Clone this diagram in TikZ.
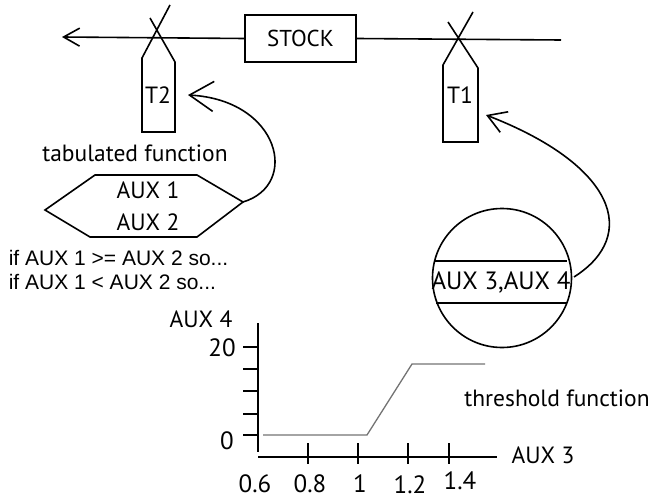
\documentclass[tikz,border=0pt]{standalone}
\usepackage{fontspec}
\setmainfont{PT Sans}
\newfontfamily\arialfont{Liberation Sans}
\usetikzlibrary{arrows.meta}
\begin{document}
\begin{tikzpicture}[x=1pt,y=-1pt,line width=1.6pt,
  lbl/.style={inner sep=0pt,font=\fontsize{23.5}{23.5}\selectfont},
  num/.style={inner sep=0pt,font=\fontsize{25}{25}\selectfont},
  iftext/.style={inner sep=0pt,anchor=west,font=\arialfont\fontsize{21}{21}\selectfont},
  fn/.style={draw=black!55,line width=1.3pt},
  tick/.style={line width=1.6pt}]
\useasboundingbox (0,0) rectangle (651,500);
% stock and flow
\node[draw,minimum width=111pt,minimum height=47pt,inner sep=0pt,font=\fontsize{23}{23}\selectfont] (stock) at (300.5,38.5) {STOCK};
\coordinate (sink) at (62,37);
\coordinate (src) at (561,40);
\draw[-{Straight Barb[length=16pt,width=18pt]}] (stock.west) -- (sink);
\draw (src) -- (stock.east);
% valve T2
\draw (150,18) -- (175,62) -- (175,132) -- (142,132) -- (142,58) -- (170,5);
\node[lbl] (t2) at (158,95) {T2};
\coordinate (t2in) at (188,95);
% valve T1
\draw (448,22) -- (478,68) -- (478,142) -- (443,142) -- (443,65) -- (473,12);
\node[lbl] (t1) at (460,95) {T1};
\coordinate (t1in) at (486,115);
% hexagon
\draw (45,210) -- (95,175) -- (197,175) -- (243,202) -- (197,237) -- (90,237) -- cycle;
\coordinate (hexr) at (243,202);
\node[lbl] (aux1) at (148,190) {AUX 1};
\node[lbl] (aux2) at (148,222) {AUX 2};
\node[lbl] (tab) at (135,153) {tabulated function};
\node[iftext] (if1) at (8,258) {if AUX 1 >= AUX 2 so...};
\node[iftext] (if2) at (8,282) {if AUX 1 < AUX 2 so...};
\draw[-{Straight Barb[length=24pt,width=30pt]}] (hexr) .. controls (300,185) and (280,100) .. (t2in);
% circle
\node[draw,circle,minimum size=139pt,inner sep=0pt] (circ) at (502,278) {};
\draw (434,261) -- (567,261);
\draw (436,303) -- (567,303);
\node[inner sep=0pt,font=\fontsize{25}{25}\selectfont] (aux34) at (501,282) {AUX 3,AUX 4};
\coordinate (circr) at (574,277);
\draw[-{Straight Barb[length=18pt,width=22pt]}] (circr) .. controls (640,235) and (615,165) .. (t1in);
% chart
\draw (258,323) -- (258,452);
\draw (258,457) -- (497,457);
\foreach \yy in {347,369,391,414,435} \draw[tick] (243,\yy) -- (258,\yy);
\foreach \xx in {308,358,408,449} \draw[tick] (\xx,443) -- (\xx,464);
\node[lbl] (ylab) at (201,319) {AUX 4};
\node[num] (y20) at (222,348) {20};
\node[num] (y0) at (227,441) {0};
\node[num] (x06) at (255,484) {0.6};
\node[num] (x08) at (310,484) {0.8};
\node[num] (x1) at (360,484) {1};
\node[num] (x12) at (410,485) {1.2};
\node[num] (x14) at (460,481) {1.4};
\node[lbl] (xlab) at (543,455) {AUX 3};
\node[lbl] (thr) at (557,398) {threshold function};
\draw[fn] (263,435) -- (367,435) -- (412,364) -- (485,364);
\end{tikzpicture}
\end{document}
